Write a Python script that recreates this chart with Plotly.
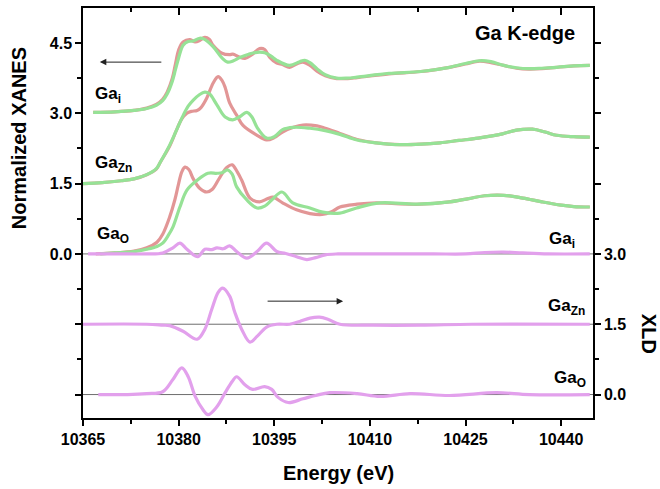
import plotly.graph_objects as go

# ---------------- data ----------------
# XANES, normalized (plotted with vertical offsets)
E_GAI_EXP = [10366.6, 10370, 10373, 10375, 10376.5, 10377.5, 10378.2, 10379.0, 10379.5, 10380.0,
             10380.7, 10381.8, 10382.6, 10383.3, 10384.1, 10384.8, 10385.4, 10386.8, 10388.0, 10388.5,
             10389.5, 10390.4, 10391.5, 10392.7, 10393.5, 10394.3, 10395.4, 10396.3, 10397.4, 10398.5,
             10399.5, 10400.6, 10401.7, 10403.0, 10404.8, 10406.5, 10408.0, 10413.0, 10418.0, 10422.5,
             10425.0, 10427.2, 10429.0, 10431.0, 10433.0, 10435.0, 10437.0, 10439.3, 10442.0, 10444.5]
GAI_EXP = [0.02, 0.03, 0.06, 0.11, 0.19, 0.30, 0.45, 0.74, 1.05, 1.35,
           1.52, 1.57, 1.52, 1.55, 1.62, 1.58, 1.45, 1.28, 1.25, 1.26,
           1.20, 1.17, 1.25, 1.38, 1.36, 1.19, 1.07, 1.04, 0.98, 1.05,
           1.09, 1.02, 0.90, 0.80, 0.74, 0.74, 0.76, 0.84, 0.89, 0.98,
           1.05, 1.11, 1.08, 1.02, 0.96, 0.94, 0.95, 0.98, 1.01, 1.02]

E_GAI_CAL = [10366.6, 10370, 10373, 10375, 10376.5, 10377.5, 10378.2, 10379.0, 10379.5, 10380.0,
             10380.7, 10381.5, 10382.3, 10383.3, 10384.0, 10385.4, 10386.8, 10387.7, 10388.6, 10389.6,
             10391.0, 10392.3, 10393.5, 10394.5, 10395.4, 10397.4, 10399.0, 10399.8, 10400.6, 10401.7,
             10403.0, 10404.8, 10406.5, 10408.0, 10413.0, 10418.0, 10422.5, 10425.0, 10427.2, 10429.0,
             10431.0, 10433.0, 10435.0, 10437.0, 10439.3, 10442.0, 10444.5]
GAI_CAL = [0.02, 0.03, 0.06, 0.10, 0.17, 0.27, 0.41, 0.68, 0.93, 1.18,
           1.45, 1.53, 1.54, 1.60, 1.58, 1.42, 1.18, 1.09, 1.12, 1.19,
           1.26, 1.30, 1.29, 1.22, 1.13, 1.02, 1.10, 1.13, 1.08, 0.95,
           0.82, 0.75, 0.75, 0.77, 0.85, 0.89, 0.98, 1.06, 1.12, 1.10,
           1.02, 0.97, 0.95, 0.96, 0.98, 1.01, 1.02]

E_GAZN_EXP = [10365.0, 10368, 10371, 10373, 10375, 10376.5, 10377.1, 10378.6, 10379.7, 10380.5,
              10381.3, 10382.0, 10382.9, 10383.5, 10384.4, 10385.4, 10386.2, 10386.8, 10387.3, 10388.0,
              10389.1, 10390.1, 10392.3, 10393.8, 10395.0, 10396.3, 10398.0, 10399.5, 10401.7, 10403.0,
              10405.3, 10408.0, 10411.0, 10414.7, 10418.0, 10421.0, 10424.0, 10427.0, 10430.8, 10433.0,
              10435.5, 10437.5, 10439.3, 10442.0, 10444.5]
GAZN_EXP = [0.0, 0.02, 0.06, 0.10, 0.19, 0.31, 0.45, 0.80, 1.15, 1.38,
            1.50, 1.54, 1.56, 1.62, 1.82, 2.14, 2.28, 2.20, 2.05, 1.72,
            1.46, 1.24, 1.03, 0.93, 0.98, 1.10, 1.20, 1.25, 1.23, 1.18,
            1.07, 0.94, 0.87, 0.83, 0.84, 0.87, 0.92, 0.97, 1.06, 1.14,
            1.16, 1.10, 1.03, 1.00, 0.99]

E_GAZN_CAL = [10365.0, 10368, 10371, 10373, 10375, 10376.5, 10377.1, 10378.6, 10379.7, 10380.7,
              10381.5, 10382.3, 10383.3, 10384.1, 10384.8, 10386.0, 10387.3, 10388.5, 10389.5, 10390.7,
              10391.5, 10392.3, 10393.8, 10395.0, 10396.3, 10398.0, 10400.6, 10403.0, 10405.3, 10408.0,
              10411.0, 10414.7, 10418.0, 10421.0, 10424.0, 10427.0, 10430.8, 10433.0, 10435.5, 10437.5,
              10439.3, 10442.0, 10444.5]
GAZN_CAL = [0.0, 0.02, 0.06, 0.10, 0.19, 0.32, 0.45, 0.82, 1.15, 1.45,
            1.65, 1.78, 1.90, 1.95, 1.92, 1.68, 1.42, 1.36, 1.42, 1.52,
            1.42, 1.20, 0.97, 1.00, 1.15, 1.20, 1.18, 1.13, 1.05, 0.93,
            0.87, 0.83, 0.84, 0.87, 0.92, 0.97, 1.06, 1.14, 1.16, 1.10,
            1.03, 1.00, 0.99]

E_GAO_EXP = [10367.0, 10370, 10373, 10375, 10376.6, 10377.5, 10378.6, 10379.4, 10380.0, 10380.5,
             10381.0, 10381.6, 10382.3, 10383.3, 10384.4, 10385.3, 10386.5, 10387.6, 10388.4, 10389.2,
             10389.9, 10391.2, 10392.7, 10394.0, 10394.8, 10396.3, 10398.5, 10400.6, 10402.5, 10404.0,
             10405.3, 10408.0, 10411.0, 10414.0, 10418.0, 10422.5, 10425.5, 10428.0, 10431.0, 10434.0,
             10437.0, 10440.0, 10442.0, 10444.5]
GAO_EXP = [0.0, 0.02, 0.06, 0.13, 0.25, 0.42, 0.79, 1.15, 1.50, 1.75,
           1.85, 1.80, 1.60, 1.40, 1.32, 1.38, 1.64, 1.85, 1.90, 1.75,
           1.57, 1.19, 1.11, 1.18, 1.21, 1.09, 0.94, 0.86, 0.84, 0.90,
           1.00, 1.06, 1.09, 1.07, 1.06, 1.11, 1.18, 1.24, 1.25, 1.19,
           1.11, 1.04, 1.01, 1.00]

E_GAO_CAL = [10367.7, 10370, 10373, 10375, 10376.6, 10377.5, 10378.4, 10379.1, 10380.2, 10381.3,
             10382.9, 10384.6, 10386.0, 10386.8, 10387.7, 10388.4, 10389.1, 10390.7, 10392.3, 10393.5,
             10394.6, 10396.2, 10397.9, 10400.6, 10402.6, 10405.3, 10407.9, 10411.6, 10417.4, 10422.5,
             10425.5, 10428.0, 10431.0, 10434.0, 10437.0, 10440.0, 10442.0, 10444.5]
GAO_CAL = [0.0, 0.02, 0.05, 0.10, 0.16, 0.23, 0.40, 0.57, 1.00, 1.36,
           1.57, 1.72, 1.72, 1.73, 1.79, 1.70, 1.43, 1.15, 0.98, 1.02,
           1.15, 1.32, 1.09, 0.98, 0.89, 0.87, 0.98, 1.09, 1.06, 1.11,
           1.18, 1.24, 1.25, 1.19, 1.11, 1.04, 1.01, 1.00]

# XLD (plotted with offsets on the right axis)
E_XLD_GAI = [10365.8, 10370, 10375, 10377.5, 10379.1, 10380.2, 10381.3, 10383.0, 10384.1, 10385.2,
             10386.0, 10387.0, 10388.0, 10389.1, 10390.7, 10392.3, 10393.8, 10395.4, 10396.8, 10398.5,
             10400.1, 10401.5, 10403.0, 10405.0, 10410.0, 10420.0, 10425.0, 10428.0, 10431.0, 10434.0,
             10438.0, 10444.5]
XLD_GAI = [0.0, 0.0, 0.0, 0.02, 0.13, 0.23, 0.10, -0.06, 0.10, 0.09,
           0.13, 0.11, 0.17, 0.05, -0.09, 0.05, 0.23, 0.05, 0.01, -0.06,
           -0.12, -0.08, -0.02, 0.0, 0.0, 0.0, 0.0, 0.03, 0.04, 0.02,
           0.0, 0.0]

E_XLD_GAZN = [10365.0, 10375, 10377.5, 10378.6, 10380.7, 10382.9, 10384.1, 10385.2, 10386.2, 10386.9,
              10388.0, 10388.8, 10389.9, 10391.2, 10392.3, 10393.8, 10395.4, 10397.4, 10399.0, 10400.6,
              10402.1, 10403.5, 10405.3, 10410.5, 10418.0, 10426.0, 10444.5]
XLD_GAZN = [0.0, 0.0, -0.02, -0.03, -0.15, -0.32, -0.11, 0.32, 0.68, 0.77,
            0.60, 0.26, -0.11, -0.38, -0.26, -0.06, 0.0, 0.0, 0.06, 0.13,
            0.15, 0.10, 0.0, -0.02, -0.02, 0.0, 0.0]

E_XLD_GAO = [10367.4, 10372, 10375, 10377.5, 10379.1, 10380.5, 10381.5, 10382.6, 10383.8, 10384.6,
             10386.0, 10387.3, 10388.4, 10389.1, 10390.4, 10391.6, 10393.5, 10394.6, 10395.6, 10397.2,
             10399.5, 10401.5, 10403.7, 10408.0, 10411.6, 10416.3, 10422.5, 10429.9, 10435.0, 10444.5]
XLD_GAO = [0.0, 0.0, 0.02, 0.06, 0.32, 0.57, 0.38, -0.04, -0.32, -0.43,
           -0.26, 0.04, 0.28, 0.38, 0.21, 0.11, 0.17, 0.11, -0.06, -0.17,
           -0.09, -0.02, 0.04, 0.02, -0.04, 0.02, -0.02, 0.04, 0.0, 0.0]

XANES_OFFSETS = [3.0, 1.5, 0.0]   # Ga_i, Ga_Zn, Ga_O
XLD_OFFSETS = [3.0, 1.5, 0.0]     # Ga_i, Ga_Zn, Ga_O (right axis)
X_RANGE = [10365, 10445]
Y_LEFT_RANGE = [-3.5, 5.245]
Y_RIGHT_RANGE = [-0.5, 8.245]

RED = "rgb(226,150,150)"
GREEN = "rgb(150,226,150)"
PINK = "rgb(226,160,236)"
FONT = "Liberation Sans, Arial, sans-serif"

fig = go.Figure()

xanes = [
    (E_GAI_EXP, GAI_EXP, E_GAI_CAL, GAI_CAL, XANES_OFFSETS[0]),
    (E_GAZN_EXP, GAZN_EXP, E_GAZN_CAL, GAZN_CAL, XANES_OFFSETS[1]),
    (E_GAO_EXP, GAO_EXP, E_GAO_CAL, GAO_CAL, XANES_OFFSETS[2]),
]
for ex, vx, ec, vc, off in xanes:
    fig.add_trace(go.Scatter(x=ex, y=[v + off for v in vx], mode="lines",
                             line=dict(color=RED, width=3.2, shape="spline", smoothing=1),
                             showlegend=False, hoverinfo="skip"))
    fig.add_trace(go.Scatter(x=ec, y=[v + off for v in vc], mode="lines",
                             line=dict(color=GREEN, width=3.2, shape="spline", smoothing=1),
                             showlegend=False, hoverinfo="skip"))

# baselines of XLD curves
for off in XLD_OFFSETS:
    fig.add_trace(go.Scatter(x=X_RANGE, y=[off, off], mode="lines", yaxis="y2",
                             line=dict(color="rgb(110,110,110)", width=1),
                             showlegend=False, hoverinfo="skip"))

for e, v, off in [(E_XLD_GAI, XLD_GAI, XLD_OFFSETS[0]),
                  (E_XLD_GAZN, XLD_GAZN, XLD_OFFSETS[1]),
                  (E_XLD_GAO, XLD_GAO, XLD_OFFSETS[2])]:
    fig.add_trace(go.Scatter(x=e, y=[d + off for d in v], mode="lines", yaxis="y2",
                             line=dict(color=PINK, width=3.2, shape="spline", smoothing=1),
                             showlegend=False, hoverinfo="skip"))

# copy of the XLD(Ga_O) trace on the top axis, drawn transparent, so the top tick axis is built
fig.add_trace(go.Scatter(x=E_XLD_GAO, y=[d + XLD_OFFSETS[2] for d in XLD_GAO],
                         xaxis="x2", yaxis="y2", mode="lines",
                         line=dict(color="rgba(255,255,255,0.01)", width=1),
                         showlegend=False, hoverinfo="skip"))

tickfont = dict(family=FONT, size=16, color="black", weight="bold")

fig.update_layout(
    width=660, height=489,
    margin=dict(l=83, r=67, t=8, b=71, autoexpand=False),
    paper_bgcolor="white", plot_bgcolor="white",
    xaxis=dict(range=X_RANGE, tick0=10365, dtick=15, tickformat="d",
               ticks="outside", ticklen=6, tickwidth=1.5, tickcolor="black",
               minor=dict(ticks="outside", ticklen=4, tickwidth=1.5, tick0=10365, dtick=7.5,
                          tickcolor="black"),
               showline=True, linecolor="black", linewidth=1.5, mirror=True,
               showgrid=False, zeroline=False, tickfont=tickfont, automargin=False),
    xaxis2=dict(range=X_RANGE, overlaying="x", side="top", anchor="y2",
                tickmode="linear", tick0=10365, dtick=15,
                ticks="inside", ticklen=7, tickwidth=1.5, tickcolor="black",
                minor=dict(ticks="inside", ticklen=4, tickwidth=1.5, tick0=10365, dtick=7.5,
                           tickcolor="black"),
                showticklabels=False, showline=True, linecolor="black", linewidth=1.5,
                showgrid=False, zeroline=False, automargin=False),
    yaxis=dict(range=Y_LEFT_RANGE, tickvals=[-3, -1.5, 0, 1.5, 3, 4.5],
               ticktext=["", "", "0.0", "1.5", "3.0", "4.5"],
               ticks="outside", ticklen=6, tickwidth=1.5, tickcolor="black",
               minor=dict(ticks="outside", ticklen=4, tickwidth=1.5, tickcolor="black",
                          tickvals=[-2.25, -0.75, 0.75, 2.25, 3.75]),
               showline=True, linecolor="black", linewidth=1.5,
               showgrid=False, zeroline=False, tickfont=tickfont, automargin=False),
    yaxis2=dict(range=Y_RIGHT_RANGE, overlaying="y", side="right", anchor="x",
                tickvals=[0, 1.5, 3, 4.5, 6, 7.5], ticktext=["0.0", "1.5", "3.0", "", "", ""],
                ticks="outside", ticklen=6, tickwidth=1.5, tickcolor="black",
                minor=dict(ticks="outside", ticklen=4, tickwidth=1.5, tickcolor="black",
                           tickvals=[0.75, 2.25, 3.75, 5.25, 6.75]),
                showline=True, linecolor="black", linewidth=1.5,
                showgrid=False, zeroline=False, tickfont=tickfont, automargin=False),
)

lab = dict(family=FONT, size=17, color="black", weight="bold")
title_font = dict(family=FONT, size=20, color="black", weight="bold")
annotations = [
    dict(text="Normalized XANES", x=-0.125, y=0.683, textangle=-90, font=title_font),
    dict(text="Energy (eV)", x=0.5, y=-0.135, font=title_font),
    dict(text="XLD", x=1.11, y=0.205, textangle=90, font=title_font),
    dict(text="Ga K-edge", x=0.867, y=0.939, font=dict(family=FONT, size=20, color="black", weight="bold")),
    dict(text="Ga<sub>i</sub>", x=0.0196, y=0.788, xanchor="left", font=lab),
    dict(text="Ga<sub>Zn</sub>", x=0.0196, y=0.619, xanchor="left", font=lab),
    dict(text="Ga<sub>O</sub>", x=0.024, y=0.447, xanchor="left", font=lab),
    dict(text="Ga<sub>i</sub>", x=0.969, y=0.433, xanchor="right", font=lab),
    dict(text="Ga<sub>Zn</sub>", x=0.988, y=0.271, xanchor="right", font=lab),
    dict(text="Ga<sub>O</sub>", x=0.990, y=0.094, xanchor="right", font=lab),
]
for a in annotations:
    a.setdefault("xanchor", "center")
    fig.add_annotation(xref="paper", yref="paper", showarrow=False, yanchor="middle", **a)

# arrows
fig.add_annotation(xref="paper", yref="paper", x=0.033, y=0.868, ax=63, ay=0, text="",
                   showarrow=True, arrowhead=2, arrowsize=1.3, arrowwidth=1, arrowcolor="#222")
fig.add_annotation(xref="paper", yref="paper", x=0.51, y=0.285, ax=-77, ay=0, text="",
                   showarrow=True, arrowhead=2, arrowsize=1.3, arrowwidth=1, arrowcolor="#222")

fig.write_html("out.html", config={"displayModeBar": False},
               post_script="document.body.style.margin='0';")
